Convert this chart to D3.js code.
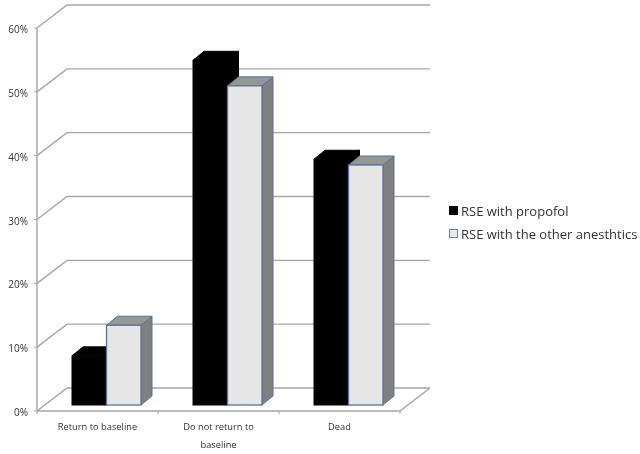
<!DOCTYPE html>
<html>
<head>
<meta charset="utf-8">
<script src="https://d3js.org/d3.v7.min.js"></script>
<style>
  html, body { margin: 0; padding: 0; background: #fff; }
  svg { display: block; filter: blur(0.35px); }
  text { font-family: "Open Sans", sans-serif; fill: #333; }
</style>
</head>
<body>
<svg id="chart" width="640" height="454"></svg>
<script>
var categories = ["Return to baseline", "Do not return to baseline", "Dead"];
var seriesNames = ["RSE with propofol", "RSE with the other anesthtics"];
var propofol = [7.7, 54, 38.5];
var others = [12.5, 50, 37.6];
var yTicks = [0, 10, 20, 30, 40, 50, 60];

var svg = d3.select("#chart");

// plot box, front wall edge and depth of the floor
var left = 37, right = 400, top0 = 28, bottom = 411;
var depthX = 30, depthY = -23;
var barDx = 11, barDy = -9, barBase = 6, barShift = 35;

var x = d3.scaleBand().domain(categories).range([left, right]);
var inner = d3.scaleBand().domain([0, 1]).range([0, 69]);
var y = d3.scaleLinear().domain([0, 60]).range([bottom, top0]);

var grey = "#a6a6a6";

// gridlines: side wall piece + back wall piece
yTicks.forEach(function(t) {
  svg.append("path")
    .attr("d", d3.line()([
      [left, y(t)],
      [left + depthX, y(t) + depthY],
      [right + depthX, y(t) + depthY]
    ]))
    .attr("fill", "none")
    .attr("stroke", grey)
    .attr("stroke-width", 1.4);
  svg.append("line")
    .attr("x1", left - 3).attr("x2", left)
    .attr("y1", y(t)).attr("y2", y(t))
    .attr("stroke", grey);
  svg.append("text")
    .attr("x", 28).attr("y", y(t) + 5)
    .attr("text-anchor", "end")
    .attr("font-size", 10)
    .text(t + "%");
});

// left wall and floor
svg.append("line")
  .attr("x1", left).attr("x2", left)
  .attr("y1", y(60)).attr("y2", y(0))
  .attr("stroke", grey).attr("stroke-width", 1.4);
svg.append("path")
  .attr("d", d3.line()([
    [right + depthX, y(0) + depthY],
    [right, y(0)],
    [left, y(0)]
  ]))
  .attr("fill", "none").attr("stroke", grey).attr("stroke-width", 1.4);
categories.concat([null]).forEach(function(c) {
  var px = c === null ? right : x(c);
  svg.append("line")
    .attr("x1", px).attr("x2", px)
    .attr("y1", y(0)).attr("y2", y(0) + 3)
    .attr("stroke", grey);
});

function drawBar(cat, i, v) {
  var x0 = x(cat) + barShift + inner(i);
  var x1 = x0 + inner.bandwidth();
  var y0 = y(v) - barBase;
  var y1 = y(0) - barBase;
  var black = i === 0;
  var edge = black ? "#000" : "#5b7397";

  svg.append("polygon")
    .attr("points", [[x1, y0], [x1 + barDx, y0 + barDy], [x1 + barDx, y1 + barDy], [x1, y1]].join(" "))
    .attr("fill", black ? "#000" : "#808080")
    .attr("stroke", edge);
  svg.append("polygon")
    .attr("points", [[x0, y0], [x0 + barDx, y0 + barDy], [x1 + barDx, y0 + barDy], [x1, y0]].join(" "))
    .attr("fill", black ? "#000" : "#969696")
    .attr("stroke", edge);
  svg.append("rect")
    .attr("x", x0).attr("y", y0)
    .attr("width", x1 - x0).attr("height", y1 - y0)
    .attr("fill", black ? "#000" : "#e6e6e6")
    .attr("stroke", edge)
    .attr("stroke-width", black ? 1 : 1.3);
}

categories.forEach(function(c, k) {
  drawBar(c, 0, propofol[k]);
});
categories.forEach(function(c, k) {
  drawBar(c, 1, others[k]);
});

// category labels, second one wraps
var labelLines = [["Return to baseline"], ["Do not return to", "baseline"], ["Dead"]];
categories.forEach(function(c, k) {
  labelLines[k].forEach(function(s, j) {
    svg.append("text")
      .attr("x", x(c) + x.bandwidth() / 2)
      .attr("y", 430 + j * 18)
      .attr("text-anchor", "middle")
      .attr("font-size", 9.3)
      .text(s);
  });
});

// legend
seriesNames.forEach(function(s, i) {
  var ly = 211 + i * 23;
  svg.append("rect")
    .attr("x", 449.5).attr("y", ly - 4.5)
    .attr("width", 8).attr("height", 8)
    .attr("fill", i === 0 ? "#000" : "#e6eaf0")
    .attr("stroke", i === 0 ? "#000" : "#6d84a6");
  svg.append("text")
    .attr("x", 461).attr("y", ly + 5)
    .attr("font-size", 13)
    .text(s);
});
</script>
</body>
</html>
